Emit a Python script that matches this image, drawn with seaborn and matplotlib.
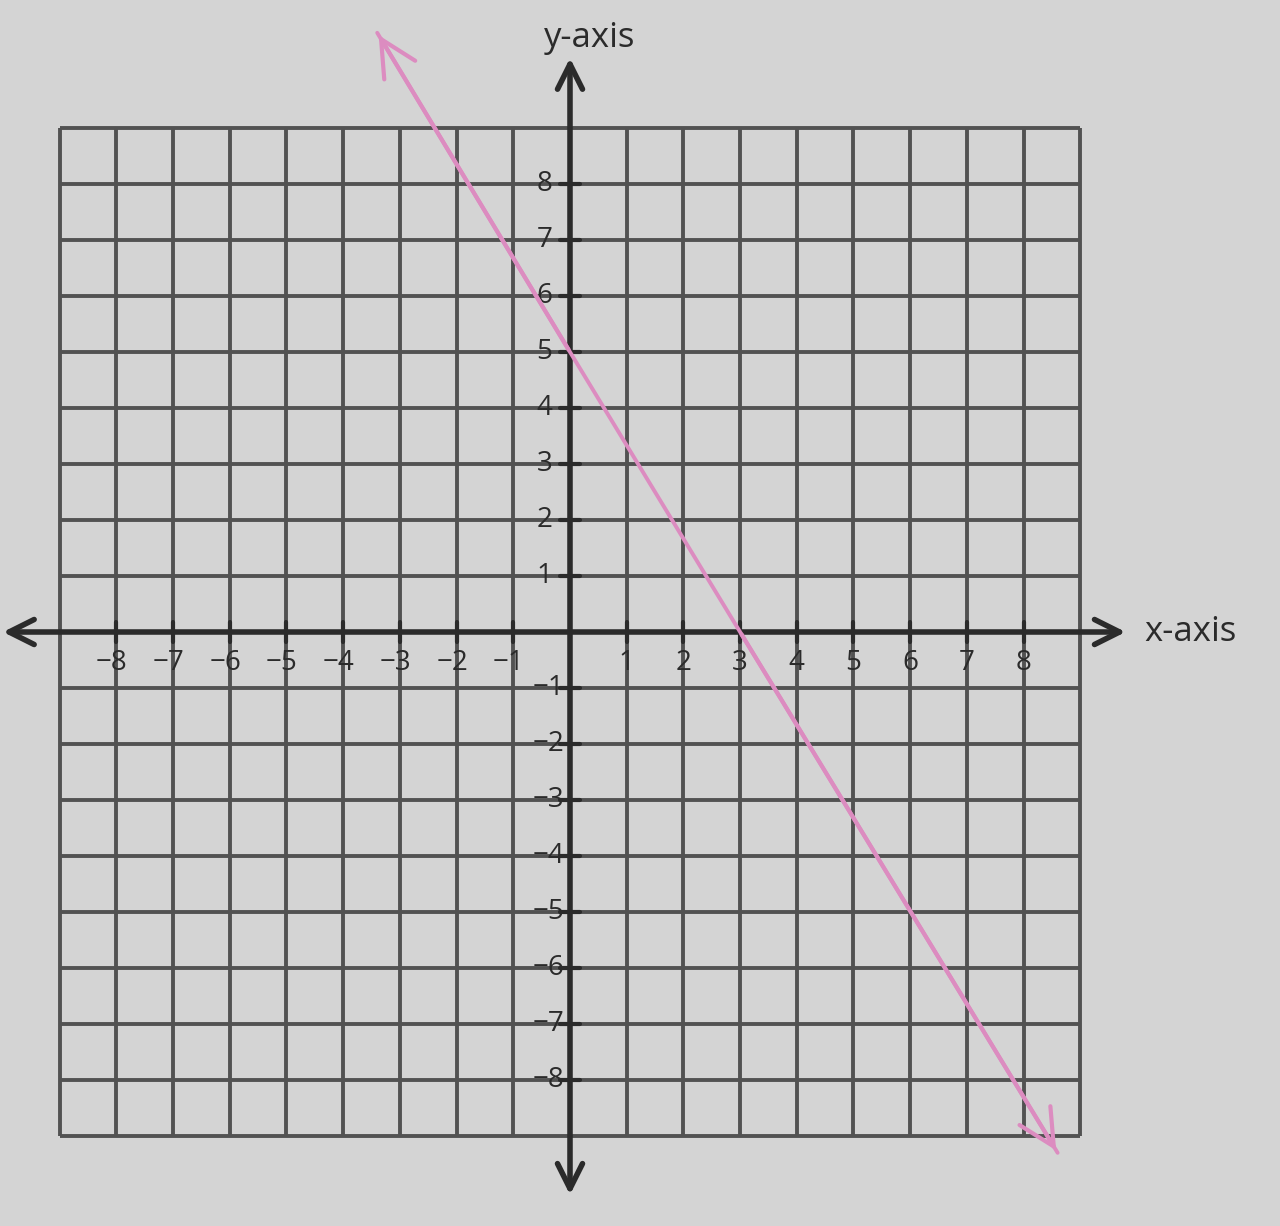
import numpy as np
import matplotlib
matplotlib.use('Agg')
import matplotlib.pyplot as plt
import seaborn as sns

# values
x_ticks = [-8, -7, -6, -5, -4, -3, -2, -1, 1, 2, 3, 4, 5, 6, 7, 8]
y_ticks = [-8, -7, -6, -5, -4, -3, -2, -1, 1, 2, 3, 4, 5, 6, 7, 8]
grid_lines = list(range(-9, 10))
line_x = [-3.4, 0, 3, 8.6]
line_y = [10.7, 5, 0, -9.3]

sns.set_style('white')
plt.rcParams['font.family'] = ['Open Sans', 'DejaVu Sans']

paper = '#d4d4d4'
ink = '#2b2b2b'
grid_c = '#525252'
pink = '#dc8cc0'

fig = plt.figure(figsize=(12.8, 12.26), dpi=100, facecolor=paper)
ax = fig.add_axes([0, 0, 1, 1], facecolor=paper)
ax.set_xlim(-570 / 56.7, (1280 - 570) / 56.7)
ax.set_ylim(-(1226 - 632) / 56.0, 632 / 56.0)
ax.axis('off')

# graph paper
ax.vlines(grid_lines, -9, 9, color=grid_c, lw=2.8, zorder=1)
ax.hlines(grid_lines, -9, 9, color=grid_c, lw=2.8, zorder=1)

# axes with arrows
ax.annotate('', xy=(9.85, 0), xytext=(-10.05, 0),
            arrowprops=dict(arrowstyle='<->', color=ink, lw=4, mutation_scale=45), zorder=3)
ax.annotate('', xy=(0, 10.3), xytext=(0, -10.1),
            arrowprops=dict(arrowstyle='<->', color=ink, lw=4, mutation_scale=45), zorder=3)
ax.text(10.95, 0, 'x-axis', fontsize=25, color=ink, ha='center', va='center')
ax.text(0.35, 10.6, 'y-axis', fontsize=25, color=ink, ha='center', va='center')

# tick marks and labels
for t in x_ticks:
    ax.plot([t, t], [-0.18, 0.18], color=ink, lw=3, zorder=3)
    if t < 0:
        ax.text(t + 0.2, -0.55, '\u2212' + str(-t), fontsize=20, color=ink,
                ha='right', va='center', zorder=4)
    else:
        ax.text(t, -0.55, str(t), fontsize=20, color=ink, ha='center', va='center', zorder=4)
for t in y_ticks:
    ax.plot([-0.18, 0.18], [t, t], color=ink, lw=3, zorder=3)
    if t < 0:
        ax.text(-0.1, t, '\u2212' + str(-t), fontsize=20, color=ink,
                ha='right', va='center', zorder=4)
    else:
        ax.text(-0.45, t, str(t), fontsize=20, color=ink, ha='center', va='center', zorder=4)

# the pink line
sns.lineplot(x=line_x, y=line_y, color=pink, lw=2.8, ax=ax, zorder=5, sort=False)
ax.annotate('', xy=(line_x[0], line_y[0]), xytext=(line_x[1], line_y[1]),
            arrowprops=dict(arrowstyle='->', color=pink, lw=3, mutation_scale=65), zorder=5)
ax.annotate('', xy=(line_x[-1], line_y[-1]), xytext=(line_x[-2], line_y[-2]),
            arrowprops=dict(arrowstyle='->', color=pink, lw=3, mutation_scale=65), zorder=5)

fig.savefig('out.png', dpi=100, facecolor=paper)
